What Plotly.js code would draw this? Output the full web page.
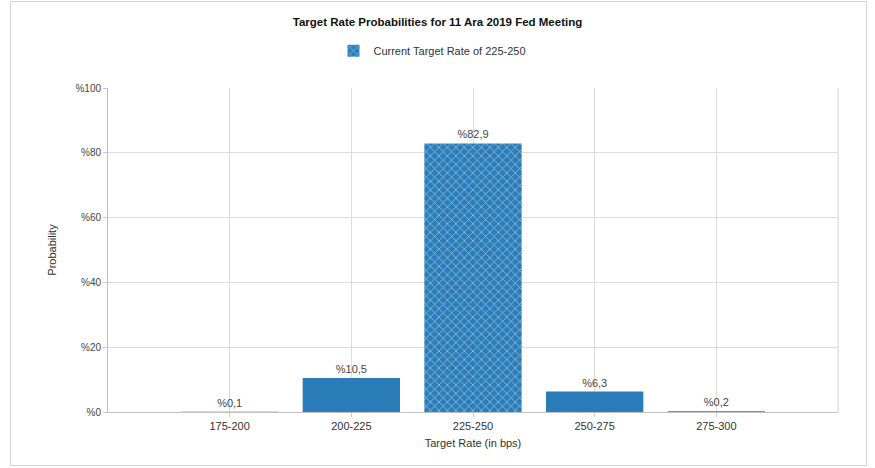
<!DOCTYPE html>
<html>
<head>
<meta charset="utf-8">
<script src="https://cdn.plot.ly/plotly-3.0.1.min.js"></script>
<style>
  html, body { margin: 0; padding: 0; background: #fff; }
  #chart { width: 875px; height: 468px; }
  #frame { position: absolute; left: 10px; top: 1px; width: 857px; height: 465px; border: 1px solid #d4d4d4; pointer-events: none; box-sizing: border-box; }
</style>
</head>
<body>
<div id="chart"></div>
<div id="frame"></div>
<script>
const categories = ["175-200", "200-225", "225-250", "250-275", "275-300"];
const probabilities = [0.1, 10.5, 82.9, 6.3, 0.2];
const currentRange = "225-250";
const yTicks = [0, 20, 40, 60, 80, 100];

const fmt = v => "%" + v.toFixed(1).replace(".", ",");
const isCur = categories.map(c => c === currentRange);

const blue = "#2a7db8";
const others = {
  type: "bar",
  x: categories,
  y: probabilities.map((v, i) => isCur[i] ? null : v),
  text: probabilities.map((v, i) => isCur[i] ? "" : fmt(v)),
  textposition: "outside",
  cliponaxis: false,
  textfont: { family: "Liberation Sans, Arial, sans-serif", size: 11, color: "#444" },
  marker: { color: blue, line: { width: 0 } },
  width: 0.8,
  showlegend: false,
  hoverinfo: "skip"
};
const current = {
  type: "bar",
  name: "Current Target Rate of " + currentRange,
  x: categories,
  y: probabilities.map((v, i) => isCur[i] ? v : null),
  text: probabilities.map((v, i) => isCur[i] ? fmt(v) : ""),
  textposition: "outside",
  cliponaxis: false,
  textfont: { family: "Liberation Sans, Arial, sans-serif", size: 11, color: "#444" },
  marker: {
    color: blue,
    line: { width: 0 },
    pattern: { shape: "x", fgcolor: "#ffffff", bgcolor: blue, size: 6, solidity: 0.25, fillmode: "overlay" }
  },
  width: 0.8,
  showlegend: true,
  hoverinfo: "skip"
};

const layout = {
  width: 875,
  height: 468,
  margin: { l: 108, r: 37, t: 88, b: 56 },
  paper_bgcolor: "#ffffff",
  plot_bgcolor: "#ffffff",
  barmode: "overlay",
  font: { family: "Liberation Sans, Arial, sans-serif", size: 10, color: "#333" },
  title: {
    text: "<b>Target Rate Probabilities for 11 Ara 2019 Fed Meeting</b>",
    font: { family: "Liberation Sans, Arial, sans-serif", size: 11.5, color: "#111" },
    x: 0.5, xanchor: "center", y: 0.953, yanchor: "middle"
  },
  showlegend: true,
  legend: {
    orientation: "h",
    x: 0.4445, xanchor: "center",
    y: 1.115, yanchor: "middle",
    font: { size: 11, color: "#333" },
    itemwidth: 30
  },
  xaxis: {
    type: "category",
    range: [-1, 5],
    showgrid: true,
    gridcolor: "#dcdcdc",
    showline: true,
    linecolor: "#c0c0c0",
    ticks: "outside",
    ticklen: 4,
    tickcolor: "#c8c8c8",
    tickfont: { size: 11, color: "#333" },
    title: { text: "Target Rate (in bps)", font: { size: 11, color: "#333" }, standoff: 8 },
    mirror: false,
    zeroline: false
  },
  yaxis: {
    range: [0, 100],
    tickvals: yTicks,
    ticktext: yTicks.map(t => "%" + t),
    showgrid: true,
    gridcolor: "#dcdcdc",
    showline: true,
    linecolor: "#c0c0c0",
    ticks: "outside",
    ticklen: 4,
    tickcolor: "#c8c8c8",
    tickfont: { size: 10, color: "#444" },
    title: { text: "Probability", font: { size: 11, color: "#333" }, standoff: 16 },
    zeroline: false
  },
  shapes: [
    { type: "line", xref: "paper", yref: "paper", x0: 1, x1: 1, y0: 0, y1: 1, line: { color: "#d0d0d0", width: 1 } }
  ]
};

Plotly.newPlot("chart", [others, current], layout, { displayModeBar: false, staticPlot: true });
</script>
</body>
</html>
